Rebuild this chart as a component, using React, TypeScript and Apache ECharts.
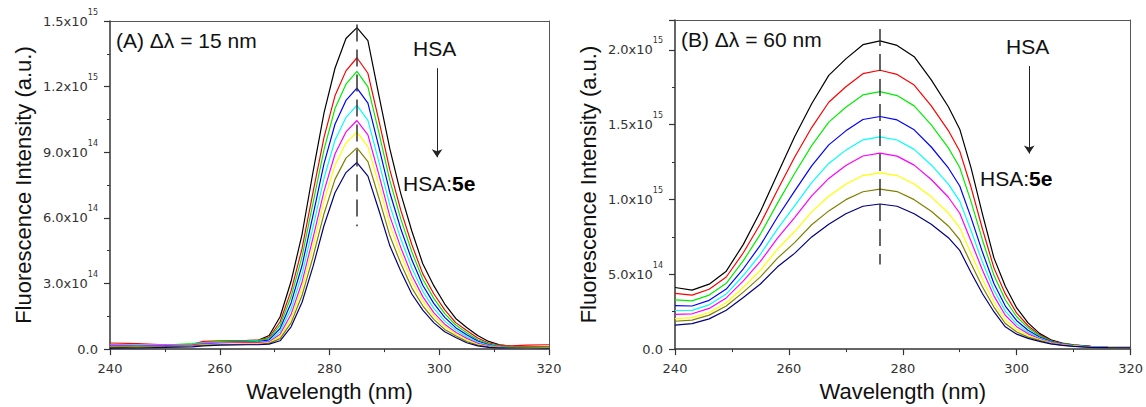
import React, { useEffect, useRef } from "react";
import * as echarts from "echarts";

// ---------- DATA (intensity in units of 1e14, wavelength in nm) ----------
const waveA = [240, 245, 250, 255, 257, 260, 265, 267, 269, 271, 273, 275, 277, 279, 281, 283, 285, 287, 289, 291, 293, 295, 297, 299, 301, 303, 305, 307, 309, 311, 313, 316, 320];
const a0Black = [0.05, 0.1, 0.15, 0.18, 0.3, 0.32, 0.35, 0.4, 0.62, 1.48, 3.1, 5.25, 8.1, 10.8, 12.84, 14.2, 14.7, 14.1, 11.6, 9.15, 7.1, 5.4, 3.9, 2.9, 2.06, 1.4, 0.99, 0.62, 0.35, 0.2, 0.13, 0.1, 0.06];
const a1Red = [0.28, 0.25, 0.2, 0.22, 0.35, 0.38, 0.4, 0.42, 0.53, 1.25, 2.66, 4.6, 7.18, 9.68, 11.58, 12.72, 13.32, 12.61, 10.45, 8.19, 6.34, 4.78, 3.44, 2.53, 1.79, 1.21, 0.85, 0.51, 0.28, 0.18, 0.15, 0.18, 0.2];
const a2Green = [0.22, 0.2, 0.18, 0.25, 0.3, 0.35, 0.38, 0.4, 0.48, 1.1, 2.39, 4.23, 6.69, 9.12, 11.0, 12.11, 12.7, 11.99, 9.9, 7.7, 5.94, 4.45, 3.19, 2.32, 1.62, 1.1, 0.75, 0.43, 0.24, 0.14, 0.12, 0.12, 0.12];
const a3Blue = [0.15, 0.12, 0.15, 0.2, 0.25, 0.3, 0.33, 0.34, 0.42, 0.94, 2.11, 3.82, 6.13, 8.48, 10.28, 11.37, 11.93, 11.25, 9.23, 7.15, 5.49, 4.08, 2.92, 2.09, 1.45, 0.98, 0.66, 0.37, 0.2, 0.12, 0.09, 0.08, 0.08];
const a4Cyan = [0.2, 0.18, 0.2, 0.22, 0.28, 0.3, 0.32, 0.32, 0.36, 0.8, 1.83, 3.42, 5.58, 7.81, 9.55, 10.59, 11.14, 10.46, 8.56, 6.57, 5.03, 3.71, 2.64, 1.86, 1.28, 0.87, 0.57, 0.31, 0.17, 0.11, 0.1, 0.1, 0.1];
const a5Magenta = [0.18, 0.15, 0.18, 0.2, 0.25, 0.28, 0.3, 0.3, 0.33, 0.68, 1.59, 3.07, 5.09, 7.22, 8.92, 9.93, 10.45, 9.79, 7.98, 6.07, 4.64, 3.38, 2.4, 1.67, 1.14, 0.77, 0.49, 0.26, 0.15, 0.09, 0.08, 0.1, 0.12];
const a6Yellow = [0.12, 0.1, 0.12, 0.15, 0.2, 0.22, 0.25, 0.25, 0.29, 0.57, 1.39, 2.77, 4.69, 6.77, 8.41, 9.42, 9.92, 9.26, 7.51, 5.68, 4.31, 3.11, 2.2, 1.53, 1.03, 0.7, 0.42, 0.22, 0.12, 0.08, 0.07, 0.06, 0.06];
const a7Olive = [0.1, 0.1, 0.12, 0.15, 0.18, 0.2, 0.22, 0.22, 0.26, 0.48, 1.2, 2.46, 4.22, 6.19, 7.76, 8.73, 9.2, 8.57, 6.91, 5.18, 3.91, 2.8, 1.98, 1.36, 0.9, 0.61, 0.35, 0.18, 0.1, 0.07, 0.1, 0.12, 0.12];
const a8Navy = [0.05, 0.05, 0.08, 0.1, 0.15, 0.18, 0.2, 0.2, 0.23, 0.38, 1.02, 2.14, 3.78, 5.65, 7.15, 8.07, 8.53, 7.91, 6.35, 4.72, 3.56, 2.52, 1.78, 1.21, 0.79, 0.53, 0.29, 0.15, 0.08, 0.05, 0.05, 0.05, 0.04];

const waveB = [240, 243, 246, 249, 252, 255, 258, 261, 264, 267, 270, 273, 276, 279, 282, 285, 288, 290, 292, 294, 296, 298, 300, 302, 304, 306, 308, 310, 313, 316, 320];
const b0Black = [4.12, 3.94, 4.34, 5.21, 7.0, 9.2, 11.7, 14.2, 16.4, 18.3, 19.4, 20.35, 20.6, 20.3, 19.55, 18.0, 16.2, 14.7, 12.1, 9.0, 6.1, 4.2, 2.75, 1.75, 1.05, 0.62, 0.4, 0.28, 0.18, 0.13, 0.11];
const b1Red = [3.73, 3.61, 4.0, 4.82, 6.44, 8.38, 10.63, 12.82, 14.81, 16.5, 17.54, 18.41, 18.64, 18.36, 17.65, 16.26, 14.61, 13.23, 10.8, 8.01, 5.43, 3.69, 2.4, 1.56, 0.95, 0.57, 0.37, 0.27, 0.18, 0.12, 0.1];
const b2Green = [3.29, 3.22, 3.61, 4.4, 5.91, 7.69, 9.76, 11.74, 13.6, 15.17, 16.17, 16.99, 17.21, 16.95, 16.26, 14.99, 13.45, 12.14, 9.84, 7.28, 4.93, 3.3, 2.16, 1.42, 0.89, 0.54, 0.36, 0.26, 0.17, 0.12, 0.1];
const b3Blue = [2.91, 2.88, 3.26, 4.01, 5.37, 6.95, 8.83, 10.56, 12.25, 13.65, 14.59, 15.35, 15.55, 15.32, 14.66, 13.51, 12.11, 10.9, 8.77, 6.47, 4.38, 2.88, 1.9, 1.26, 0.81, 0.5, 0.34, 0.25, 0.16, 0.12, 0.09];
const b4Cyan = [2.58, 2.59, 2.96, 3.68, 4.92, 6.34, 8.04, 9.58, 11.13, 12.41, 13.3, 13.99, 14.19, 13.98, 13.35, 12.31, 11.03, 9.89, 7.9, 5.8, 3.93, 2.54, 1.67, 1.13, 0.74, 0.47, 0.32, 0.23, 0.15, 0.11, 0.09];
const b5Magenta = [2.32, 2.36, 2.72, 3.42, 4.56, 5.86, 7.42, 8.79, 10.24, 11.41, 12.27, 12.91, 13.1, 12.9, 12.3, 11.34, 10.15, 9.08, 7.19, 5.27, 3.56, 2.26, 1.5, 1.02, 0.69, 0.44, 0.31, 0.22, 0.14, 0.11, 0.09];
const b6Yellow = [2.04, 2.1, 2.45, 3.1, 4.13, 5.27, 6.68, 7.86, 9.17, 10.22, 11.02, 11.6, 11.78, 11.6, 11.04, 10.18, 9.1, 8.11, 6.38, 4.65, 3.15, 1.96, 1.3, 0.91, 0.63, 0.41, 0.28, 0.21, 0.13, 0.11, 0.08];
const b7Olive = [1.86, 1.94, 2.27, 2.88, 3.81, 4.83, 6.08, 7.12, 8.31, 9.24, 9.99, 10.52, 10.69, 10.53, 9.99, 9.22, 8.23, 7.31, 5.71, 4.15, 2.81, 1.71, 1.14, 0.8, 0.58, 0.37, 0.27, 0.19, 0.12, 0.1, 0.08];
const b8Navy = [1.6, 1.7, 2.02, 2.6, 3.45, 4.35, 5.5, 6.4, 7.5, 8.35, 9.05, 9.55, 9.7, 9.55, 9.05, 8.35, 7.45, 6.6, 5.1, 3.7, 2.5, 1.49, 1.0, 0.72, 0.52, 0.35, 0.25, 0.18, 0.12, 0.1, 0.08];

const curveColors = ["#000000", "#ff0000", "#00ee00", "#0000ff", "#00ffff", "#ff00ff", "#ffff00", "#808000", "#000080"];
const seriesA = [a0Black, a1Red, a2Green, a3Blue, a4Cyan, a5Magenta, a6Yellow, a7Olive, a8Navy];
const seriesB = [b0Black, b1Red, b2Green, b3Blue, b4Cyan, b5Magenta, b6Yellow, b7Olive, b8Navy];

const xTicks = [240, 260, 280, 300, 320];
const peakA = 285;
const peakB = 276;

// ---------- STYLE ----------
const TICK_FONT = "DejaVu Sans";
const TITLE_FONT = "Liberation Sans";
const AX = "#333";

function sciLabel(v: number): string {
  if (v === 0) return "{m|0.0}";
  if (v < 10) return `{m|${v.toFixed(1)}x10}{s|14}`;
  return `{m|${(v / 10).toFixed(1)}x10}{s|15}`;
}

const richSci = {
  m: { fontSize: 13, fontFamily: TICK_FONT, color: AX, lineHeight: 26, verticalAlign: "middle" },
  s: { fontSize: 8, fontFamily: TICK_FONT, color: AX, lineHeight: 9, verticalAlign: "top" },
};

function mainX(gridIndex: number, nameGap: number) {
  return {
    type: "value",
    gridIndex,
    min: xTicks[0],
    max: xTicks[xTicks.length - 1],
    interval: 20,
    name: "Wavelength (nm)",
    nameLocation: "middle",
    nameGap,
    nameTextStyle: { fontSize: 22, fontFamily: TITLE_FONT, color: "#111" },
    axisLine: { show: true, onZero: false, lineStyle: { color: AX, width: 1.5 } },
    axisTick: { show: true, inside: false, length: 6, lineStyle: { color: AX, width: 1.2 } },
    minorTick: { show: true, splitNumber: 2, length: 3, lineStyle: { color: AX, width: 1 } },
    axisLabel: { margin: 13, fontSize: 13, fontFamily: TICK_FONT, color: AX },
    splitLine: { show: false },
    minorSplitLine: { show: false },
  };
}

function frameX(gridIndex: number) {
  return {
    type: "value",
    gridIndex,
    position: "top",
    min: xTicks[0],
    max: xTicks[xTicks.length - 1],
    axisLine: { show: true, onZero: false, lineStyle: { color: "#555", width: 1 } },
    axisTick: { show: false },
    axisLabel: { show: false },
    splitLine: { show: false },
  };
}

function mainY(gridIndex: number, max: number, interval: number, filterStep: number) {
  return {
    type: "value",
    gridIndex,
    min: 0,
    max,
    interval,
    name: "Fluorescence Intensity (a.u.)",
    nameLocation: "middle",
    nameGap: 76,
    nameTextStyle: { fontSize: 22, fontFamily: TITLE_FONT, color: "#111" },
    axisLine: { show: true, onZero: false, lineStyle: { color: AX, width: 1.5 } },
    axisTick: { show: true, inside: false, length: 6, lineStyle: { color: AX, width: 1.2 } },
    minorTick: { show: true, splitNumber: 2, length: 3, lineStyle: { color: AX, width: 1 } },
    axisLabel: {
      margin: 12,
      formatter: (v: number) => (Math.abs(v % filterStep) > 1e-9 ? "" : sciLabel(v)),
      rich: richSci,
    },
    splitLine: { show: false },
    minorSplitLine: { show: false },
  };
}

function frameY(gridIndex: number, max: number) {
  return {
    type: "value",
    gridIndex,
    position: "right",
    min: 0,
    max,
    axisLine: { show: true, onZero: false, lineStyle: { color: "#555", width: 1 } },
    axisTick: { show: false },
    axisLabel: { show: false },
    splitLine: { show: false },
  };
}

function buildSeries(wave: number[], all: number[][], xi: number, yi: number, marks: any) {
  return all.map((vals, k) => ({
    type: "line",
    xAxisIndex: xi,
    yAxisIndex: yi,
    symbol: "none",
    silent: true,
    lineStyle: { color: curveColors[k], width: 1.2 },
    data: wave.map((x, i) => [x, vals[i]]),
    markLine: k === 0 ? marks : undefined,
  }));
}

function marksFor(peak: number, dashTop: number, dashBottom: number, arrowX: number, arrowTop: number, arrowBottom: number) {
  return {
    silent: true,
    symbol: "none",
    label: { show: false },
    emphasis: { disabled: true },
    data: [
      [
        { coord: [peak, dashTop], lineStyle: { color: "#333", width: 1.5, type: [17, 8] }, symbol: "none" },
        { coord: [peak, dashBottom], symbol: "none" },
      ],
      [
        { coord: [arrowX, arrowTop], lineStyle: { color: "#222", width: 1, type: "solid" }, symbol: "none" },
        { coord: [arrowX, arrowBottom], symbol: "arrow", symbolSize: 8 },
      ],
    ],
  };
}

export default function App() {
  const ref = useRef<HTMLDivElement>(null);
  useEffect(() => {
    if (!ref.current) return;
    const chart = echarts.init(ref.current, undefined, { renderer: "svg" });
    const textBase = { fontFamily: TITLE_FONT, fill: "#111" };
    const option: any = {
      animation: false,
      backgroundColor: "#ffffff",
      grid: [
        { left: 110, top: 21, width: 439, height: 339 },
        { left: 675, top: 20, width: 458, height: 336 },
      ],
      xAxis: [mainX(0, 25), frameX(0), mainX(1, 28), frameX(1)],
      yAxis: [mainY(0, 15, 3, 3), frameY(0, 15), mainY(1, 22, 5, 5), frameY(1, 22)],
      series: [
        ...buildSeries(waveA, seriesA, 0, 0, marksFor(peakA, 14.84, 5.62, 299.6, 12.84, 8.77)),
        ...buildSeries(waveB, seriesB, 2, 2, marksFor(peakB, 21.4, 5.65, 302.2, 18.92, 13.07)),
      ],
      graphic: [
        { type: "text", left: 116, top: 30, style: { ...textBase, text: "(A) Δλ = 15 nm", fontSize: 21 } },
        { type: "text", left: 681, top: 29, style: { ...textBase, text: "(B) Δλ = 60 nm", fontSize: 21 } },
        { type: "text", left: 413, top: 38, style: { ...textBase, text: "HSA", fontSize: 21 } },
        { type: "text", left: 1006, top: 36, style: { ...textBase, text: "HSA", fontSize: 21 } },
        {
          type: "text",
          left: 403,
          top: 173,
          style: {
            ...textBase,
            text: "{n|HSA:}{b|5e}",
            rich: {
              n: { fontSize: 21, fontFamily: TITLE_FONT, fill: "#111" },
              b: { fontSize: 21, fontFamily: TITLE_FONT, fontWeight: "bold", fill: "#000" },
            },
          },
        },
        {
          type: "text",
          left: 980,
          top: 168,
          style: {
            ...textBase,
            text: "{n|HSA:}{b|5e}",
            rich: {
              n: { fontSize: 21, fontFamily: TITLE_FONT, fill: "#111" },
              b: { fontSize: 21, fontFamily: TITLE_FONT, fontWeight: "bold", fill: "#000" },
            },
          },
        },
      ],
    };
    chart.setOption(option);
    return () => chart.dispose();
  }, []);
  return (
    <div
      ref={ref}
      style={{ position: "absolute", left: 0, top: 0, width: 1146, height: 407, background: "#fff" }}
    />
  );
}
